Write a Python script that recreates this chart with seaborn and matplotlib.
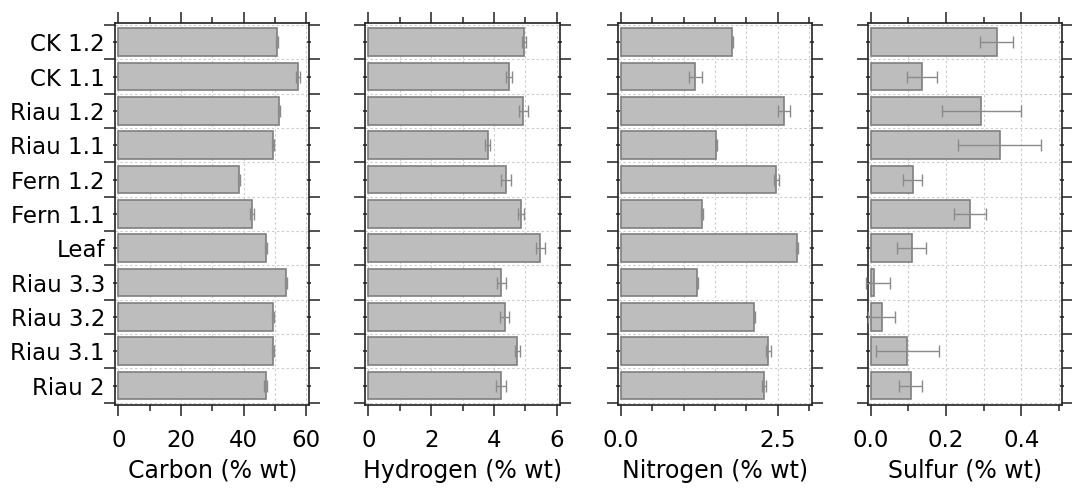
import numpy as np
import pandas as pd
import matplotlib
matplotlib.use("Agg")
import matplotlib.pyplot as plt
import seaborn as sns
from matplotlib.ticker import MultipleLocator, FixedLocator, FormatStrFormatter

# ---------------- data ----------------
samples = ["CK 1.2", "CK 1.1", "Riau 1.2", "Riau 1.1", "Fern 1.2", "Fern 1.1",
           "Leaf", "Riau 3.3", "Riau 3.2", "Riau 3.1", "Riau 2"]

carbon = [50.8, 57.5, 51.3, 49.3, 38.7, 42.8, 47.1, 53.5, 49.3, 49.3, 47.1]
carbon_err = [0.3, 0.6, 0.3, 0.3, 0.3, 0.6, 0.3, 0.3, 0.3, 0.3, 0.5]

hydrogen = [4.97, 4.48, 4.94, 3.80, 4.38, 4.87, 5.48, 4.24, 4.34, 4.75, 4.23]
hydrogen_err = [0.07, 0.10, 0.14, 0.08, 0.16, 0.09, 0.14, 0.14, 0.14, 0.07, 0.17]

nitrogen = [1.78, 1.19, 2.60, 1.52, 2.48, 1.30, 2.81, 1.22, 2.13, 2.35, 2.28]
nitrogen_err = [0.01, 0.11, 0.10, 0.01, 0.04, 0.015, 0.01, 0.01, 0.01, 0.04, 0.03]

sulfur = [0.334, 0.136, 0.294, 0.342, 0.111, 0.264, 0.109, 0.009, 0.029, 0.097, 0.106]
sulfur_err_lo = [0.044, 0.041, 0.104, 0.111, 0.026, 0.042, 0.038, 0.022, 0.035, 0.084, 0.031]
sulfur_err_hi = [0.044, 0.041, 0.104, 0.111, 0.026, 0.042, 0.038, 0.043, 0.035, 0.084, 0.031]

x_labels = ["Carbon (% wt)", "Hydrogen (% wt)", "Nitrogen (% wt)", "Sulfur (% wt)"]

# ---------------- style ----------------
sns.set_style("white")
plt.rcParams["font.family"] = ["DejaVu Sans"]
plt.rcParams["text.color"] = "black"
plt.rcParams["axes.labelcolor"] = "black"
plt.rcParams["xtick.color"] = "black"
plt.rcParams["ytick.color"] = "black"

FS = 16.5
BAR_FILL = "#bdbdbd"
BAR_EDGE = "#7f7f7f"
ERR_COL = "#8a8a8a"
SPINE_COL = "#222222"
GRID_COL = "#cccccc"

panels = [
    dict(vals=carbon, err=[carbon_err, carbon_err], xlim=(-1.05, 61.05), major=20, minor=10, fmt="%d"),
    dict(vals=hydrogen, err=[hydrogen_err, hydrogen_err], xlim=(-0.1, 6.1), major=2, minor=1, fmt="%d"),
    dict(vals=nitrogen, err=[nitrogen_err, nitrogen_err], xlim=(-0.05, 3.05), major=2.5, minor=0.5, fmt="%.1f"),
    dict(vals=sulfur, err=[sulfur_err_lo, sulfur_err_hi], xlim=(-0.008, 0.508), major=0.2, minor=0.1, fmt="%.1f"),
]

W, H = 1072, 492
fig = plt.figure(figsize=(W / 100, H / 100), dpi=100)
lefts = [115, 365.3, 617.7, 867.7]
ax_w = 194.4
ax_top, ax_bot = 22.7, 405.0

n = len(samples)
for i, (pan, xlabel) in enumerate(zip(panels, x_labels)):
    ax = fig.add_axes([lefts[i] / W, (H - ax_bot) / H, ax_w / W, (ax_bot - ax_top) / H])
    df = pd.DataFrame({"sample": samples, "value": pan["vals"]})
    sns.barplot(data=df, x="value", y="sample", orient="h", color=BAR_FILL,
                edgecolor=BAR_EDGE, linewidth=1.2, width=0.8, saturation=1,
                errorbar=None, ax=ax, zorder=2)
    ys = [p.get_y() + p.get_height() / 2 for p in ax.patches]
    eb = ax.errorbar(pan["vals"], ys, xerr=np.array(pan["err"]), fmt="none",
                     ecolor=ERR_COL, elinewidth=1.0, capsize=4.3, capthick=1.0, zorder=3)
    for art in eb.get_children():
        art.set_clip_on(False)

    ax.set_xlim(*pan["xlim"])
    ax.set_ylim(n - 0.5 + 0.067, -0.5 - 0.067)

    ax.xaxis.set_major_locator(MultipleLocator(pan["major"]))
    ax.xaxis.set_minor_locator(MultipleLocator(pan["minor"]))
    ax.xaxis.set_major_formatter(FormatStrFormatter(pan["fmt"]))
    ax.yaxis.set_minor_locator(FixedLocator(np.arange(-0.5, n, 1.0)))

    ax.tick_params(axis="x", which="major", direction="out", length=8, width=1.1,
                   color=SPINE_COL, labelcolor="black", top=True, bottom=True, labeltop=False,
                   labelsize=FS, pad=9.5)
    ax.tick_params(axis="x", which="minor", direction="out", length=4, width=1.1,
                   color=SPINE_COL, top=True, bottom=True)
    ax.tick_params(axis="y", which="major", direction="inout", length=3.5, width=1.1,
                   color=SPINE_COL, labelcolor="black", left=True, right=True, labelsize=FS, pad=5.5,
                   labelleft=(i == 0))
    ax.tick_params(axis="y", which="minor", direction="out", length=8, width=1.1,
                   color=SPINE_COL, left=True, right=True)

    ax.set_axisbelow(True)
    ax.grid(False)
    ax.grid(True, which="both", axis="x", color=GRID_COL, linestyle=(0, (2.2, 2.2)), linewidth=0.8)
    ax.grid(True, which="minor", axis="y", color=GRID_COL, linestyle=(0, (2.2, 2.2)), linewidth=0.8)

    for s in ax.spines.values():
        s.set_visible(True)
        s.set_color(SPINE_COL)
        s.set_linewidth(1.2)

    ax.set_ylabel("")
    ax.set_xlabel(xlabel, fontsize=17, labelpad=4.5, color="black")

fig.savefig("out.png", dpi=100)
